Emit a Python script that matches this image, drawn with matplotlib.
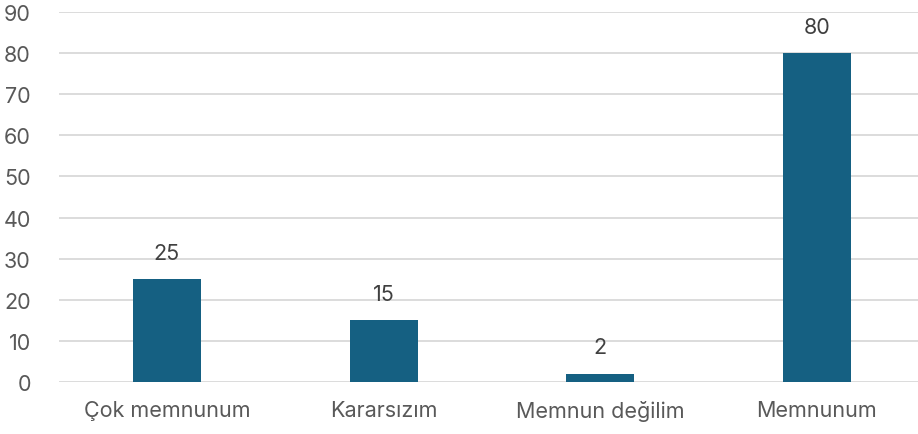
import matplotlib.pyplot as plt

plt.rcParams["font.family"] = ["Inter", "DejaVu Sans"]

# Data
categories = ["Çok memnunum", "Kararsızım", "Memnun değilim", "Memnunum"]
values = [25, 15, 2, 80]
y_ticks = [0, 10, 20, 30, 40, 50, 60, 70, 80, 90]

bar_color = "#156082"
tick_color = "#595959"
label_color = "#404040"
grid_color = "#d9d9d9"

fig = plt.figure(figsize=(9.18, 4.35), dpi=100)
ax = fig.add_axes([0.0639, 0.1195, 0.9437, 0.8506])

x = list(range(len(categories)))
bars = ax.bar(x, values, width=0.314, color=bar_color, zorder=3)

ax.set_xlim(-0.5, len(categories) - 0.5)
ax.set_ylim(0, 90)
ax.set_yticks(y_ticks)
ax.set_xticks(x)
ax.set_xticklabels(categories)

ax.grid(axis="y", color=grid_color, linewidth=1.3, zorder=0)
for side in ["top", "right", "left", "bottom"]:
    ax.spines[side].set_visible(False)
ax.tick_params(axis="both", length=0, labelsize=15.5, colors=tick_color)
ax.tick_params(axis="y", pad=20)
ax.tick_params(axis="x", pad=13)

# value labels above bars
for b, v in zip(bars, values):
    ax.annotate(str(v), xy=(b.get_x() + b.get_width() / 2, v),
                xytext=(0, 19), textcoords="offset points",
                ha="center", va="center", fontsize=15.5, color=label_color)

fig.savefig("out.png", dpi=100)
